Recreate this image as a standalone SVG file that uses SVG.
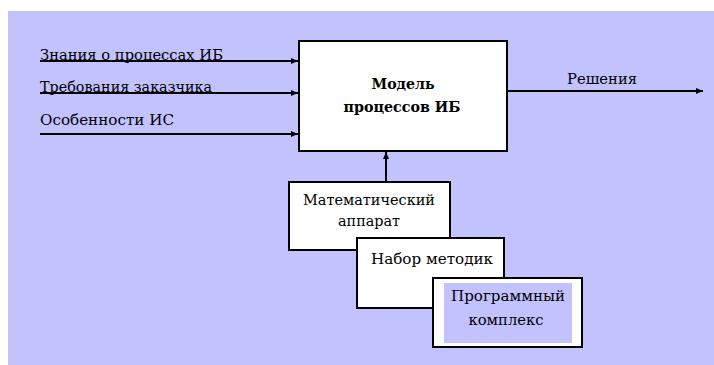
<svg xmlns="http://www.w3.org/2000/svg" width="714" height="365" viewBox="0 0 714 365">
<defs>
<style>
text{font-family:"DejaVu Serif","Liberation Serif",serif;font-size:15px;fill:#000}
.b{font-weight:bold}
.box{fill:#fff;stroke:#000;stroke-width:2}
.ln{stroke:#000;stroke-width:2;fill:none}
</style>
<marker id="ah" markerWidth="7" markerHeight="6" refX="7" refY="3" orient="auto" markerUnits="userSpaceOnUse">
<path d="M0,0 L7,3 L0,6 Z" fill="#000"/>
</marker>
</defs>
<rect x="8" y="11" width="706" height="354" fill="#C2C2FF"/>
<g id="connectors">
<line class="ln" x1="40" y1="61" x2="298" y2="61" marker-end="url(#ah)"/>
<line class="ln" x1="40" y1="93" x2="298" y2="93" marker-end="url(#ah)"/>
<line class="ln" x1="40" y1="134" x2="298" y2="134" marker-end="url(#ah)"/>
<line class="ln" x1="508" y1="91" x2="703" y2="91" marker-end="url(#ah)"/>
<line class="ln" x1="386" y1="182" x2="386" y2="152" marker-end="url(#ah)"/>
</g>
<g id="labels">
<text x="40" y="60" textLength="183" lengthAdjust="spacingAndGlyphs">Знания о процессах ИБ</text>
<text x="40" y="92" textLength="172" lengthAdjust="spacingAndGlyphs">Требования заказчика</text>
<text x="40" y="125" textLength="134" lengthAdjust="spacingAndGlyphs">Особенности ИС</text>
<text x="567" y="84" textLength="70" lengthAdjust="spacingAndGlyphs">Решения</text>
</g>
<g id="model">
<rect class="box" x="299" y="41" width="208" height="110"/>
<text class="b" x="403" y="89" text-anchor="middle" textLength="63" lengthAdjust="spacingAndGlyphs">Модель</text>
<text class="b" x="402" y="112" text-anchor="middle" textLength="117" lengthAdjust="spacingAndGlyphs">процессов ИБ</text>
</g>
<g id="math">
<rect class="box" x="289" y="182" width="161" height="68"/>
<text x="369" y="205" text-anchor="middle" textLength="132" lengthAdjust="spacingAndGlyphs">Математический</text>
<text x="369" y="226" text-anchor="middle" textLength="62" lengthAdjust="spacingAndGlyphs">аппарат</text>
</g>
<g id="methods">
<rect class="box" x="357" y="238" width="147" height="70"/>
<text x="432" y="264" text-anchor="middle" textLength="122" lengthAdjust="spacingAndGlyphs">Набор методик</text>
</g>
<g id="software">
<rect class="box" x="433" y="278" width="149" height="69"/>
<rect x="444" y="283" width="128" height="60" fill="#C2C2FF"/>
<text x="508" y="301" text-anchor="middle" textLength="114" lengthAdjust="spacingAndGlyphs">Программный</text>
<text x="506" y="325" text-anchor="middle" textLength="75" lengthAdjust="spacingAndGlyphs">комплекс</text>
</g>
</svg>
